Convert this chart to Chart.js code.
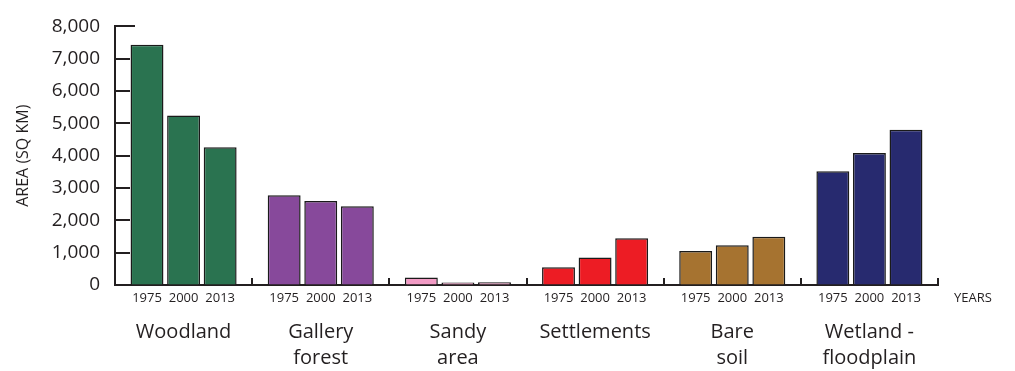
<!DOCTYPE html>
<html><head><meta charset="utf-8">
<script src="https://cdn.jsdelivr.net/npm/chart.js@4"></script>
<style>html,body{margin:0;padding:0;background:#fff}#wrap{width:1015px;height:371px}</style>
</head><body><div id="wrap"><canvas id="c" width="1015" height="371"></canvas></div>
<script>
const categories = [['Woodland'], ['Gallery','forest'], ['Sandy','area'], ['Settlements'], ['Bare','soil'], ['Wetland -','floodplain']];
const years = ['1975', '2000', '2013'];
const area1975 = [7430, 2780, 230, 550, 1050, 3520];
const area2000 = [5240, 2600, 75, 850, 1230, 4080];
const area2013 = [4260, 2440, 85, 1450, 1490, 4800];
const categoryColors = ['#2a7350', '#87499b', '#f29bc5', '#ed1c24', '#a67330', '#272a6f'];
const yMin = 0, yMax = 8000, yStep = 1000;

const INK = '#231f20';
const FONT = '"Open Sans", "Noto Sans", sans-serif';

const decor = {
  id: 'decor',
  afterDraw(chart) {
    const ctx = chart.ctx, x = chart.scales.x, y = chart.scales.y;
    ctx.save();
    ctx.strokeStyle = INK; ctx.lineWidth = 2;
    ctx.beginPath();
    y.ticks.forEach(t => {
      if (t.value === yMin) return;
      const py = Math.round(y.getPixelForValue(t.value));
      const len = t.value === yMax ? 20 : 15;
      ctx.moveTo(x.left, py); ctx.lineTo(x.left + len, py);
    });
    for (let i = 1; i <= categories.length; i++) {
      const px = Math.round(x.getPixelForValue(i - 0.5));
      ctx.moveTo(px, y.bottom); ctx.lineTo(px, y.bottom - 7);
    }
    ctx.stroke();
    ctx.font = '13px ' + FONT; ctx.fillStyle = INK;
    ctx.textAlign = 'center'; ctx.textBaseline = 'middle';
    chart.data.datasets.forEach((ds, di) => {
      chart.getDatasetMeta(di).data.forEach(bar => {
        ctx.fillText(ds.label, bar.x, y.bottom + 13);
      });
    });
    ctx.textAlign = 'left';
    ctx.fillText('YEARS', x.right + 16, y.bottom + 13);
    ctx.restore();
  }
};

const mk = (label, data) => ({
  label, data,
  backgroundColor: categoryColors,
  borderColor: '#1a1a1a',
  borderWidth: 1.5,
  barPercentage: 0.9,
  categoryPercentage: 0.8
});

new Chart(document.getElementById('c'), {
  type: 'bar',
  data: {
    labels: categories,
    datasets: [mk(years[0], area1975), mk(years[1], area2000), mk(years[2], area2013)]
  },
  options: {
    responsive: false,
    animation: false,
    devicePixelRatio: 1,
    layout: { padding: { top: 14, right: 77, left: 0, bottom: 0 } },
    plugins: { legend: { display: false }, tooltip: { enabled: false } },
    scales: {
      x: {
        grid: { drawOnChartArea: false, drawTicks: false },
        border: { display: true, color: INK, width: 2 },
        ticks: { color: INK, font: { family: FONT, size: 20, lineHeight: 1.3 }, padding: 34, maxRotation: 0, autoSkip: false },
        afterFit: s => { s.height = 86; }
      },
      y: {
        min: yMin, max: yMax,
        grid: { drawOnChartArea: false, drawTicks: false },
        border: { display: true, color: INK, width: 2 },
        ticks: { stepSize: yStep, color: INK, font: { family: FONT, size: 19 }, padding: 15 },
        title: { display: true, text: 'AREA (SQ KM)', color: INK, font: { family: FONT, size: 16 }, padding: { top: 14, bottom: 0 } },
        afterFit: s => { s.width = 115; }
      }
    }
  },
  plugins: [decor]
});
</script></body></html>
